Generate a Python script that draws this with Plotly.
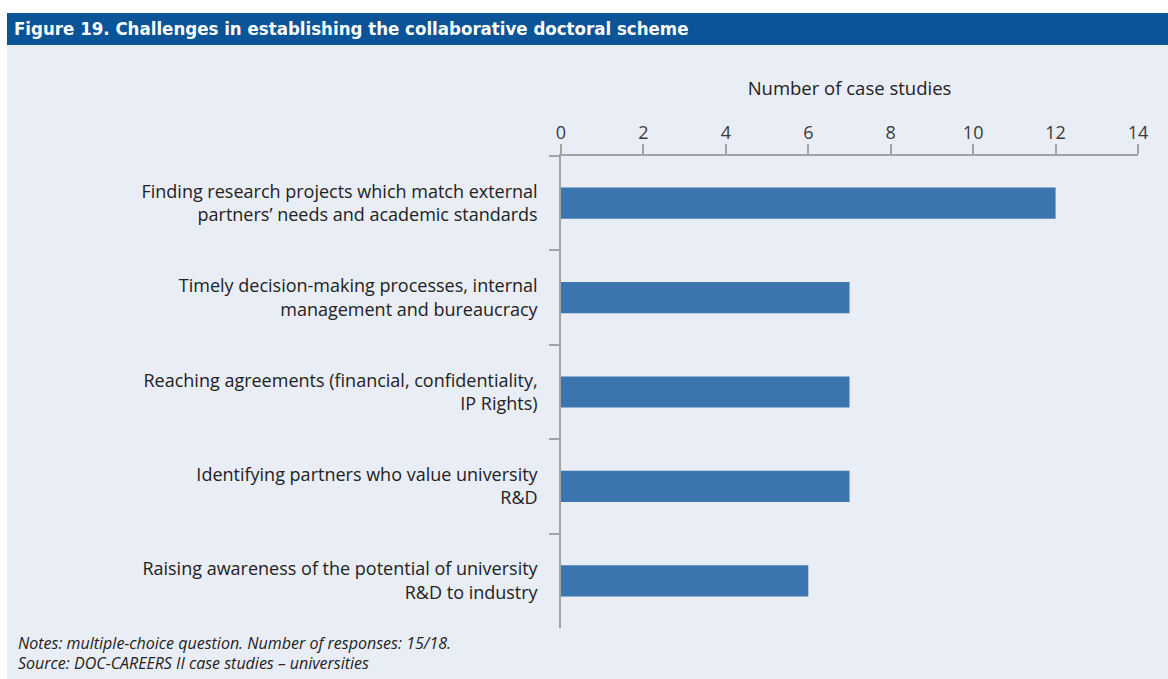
import plotly.graph_objects as go

# Challenges reported by case studies (top to bottom)
categories = [
    "Finding research projects which match external<br>partners’ needs and academic standards",
    "Timely decision-making processes, internal<br>management and bureaucracy",
    "Reaching agreements (financial, confidentiality,<br>IP Rights)",
    "Identifying partners who value university<br>R&D",
    "Raising awareness of the potential of university<br>R&D to industry",
]
case_counts = [12, 7, 7, 7, 6]
tick_values = [0, 2, 4, 6, 8, 10, 12, 14]

title_text = "Figure 19. Challenges in establishing the collaborative doctoral scheme"
notes_text = "Notes: multiple-choice question. Number of responses: 15/18."
source_text = "Source: DOC-CAREERS II case studies – universities"

W, H = 1168, 679
ML, MR, MT, MB = 561, 30, 156, 51
PW, PH = W - ML - MR, H - MT - MB

BG = "#e9edf6"
BAR = "#3b76b0"
AXIS = "#a3a3a3"
BLUE = "#0a5497"
FONT = "Open Sans, Noto Sans, sans-serif"


def px_x(px):
    return (px - ML) / PW


def px_y(py):
    return (H - MB - py) / PH


fig = go.Figure(
    go.Bar(
        x=case_counts,
        y=categories,
        orientation="h",
        width=0.33,
        marker=dict(color=BAR, line=dict(width=0)),
        hoverinfo="x+y",
    )
)

fig.update_layout(
    width=W,
    height=H,
    margin=dict(l=ML, r=MR, t=MT, b=MB, pad=0),
    paper_bgcolor=BG,
    plot_bgcolor=BG,
    showlegend=False,
    font=dict(family=FONT, size=17, color="#222222"),
    xaxis=dict(
        side="top",
        range=[0, 14],
        tickvals=tick_values,
        ticks="outside",
        ticklen=10,
        tickwidth=1.5,
        tickcolor=AXIS,
        showline=True,
        linecolor=AXIS,
        linewidth=1.5,
        showgrid=False,
        zeroline=False,
        ticklabelstandoff=-2,
        tickfont=dict(family=FONT, size=18, color="#3a3a3a"),
        title=dict(
            text="Number of case studies",
            font=dict(family=FONT, size=18.5, color="#222222"),
            standoff=20,
        ),
        fixedrange=True,
    ),
    yaxis=dict(
        type="category",
        autorange="reversed",
        tickson="boundaries",
        ticks="outside",
        ticklen=10,
        tickwidth=1.5,
        tickcolor=AXIS,
        showline=True,
        linecolor=AXIS,
        linewidth=1.5,
        showgrid=False,
        zeroline=False,
        ticklabelstandoff=18,
        tickfont=dict(family=FONT, size=18, color="#222222"),
        fixedrange=True,
    ),
    shapes=[
        # white strips at top and left edges
        dict(type="rect", xref="paper", yref="paper", x0=px_x(0), x1=px_x(W),
             y0=px_y(13), y1=px_y(0), fillcolor="white", line=dict(width=0), layer="below"),
        dict(type="rect", xref="paper", yref="paper", x0=px_x(0), x1=px_x(7),
             y0=px_y(H), y1=px_y(0), fillcolor="white", line=dict(width=0), layer="below"),
        # title bar
        dict(type="rect", xref="paper", yref="paper", x0=px_x(7), x1=px_x(W),
             y0=px_y(45), y1=px_y(13), fillcolor=BLUE, line=dict(width=0), layer="below"),
    ],
    annotations=[
        dict(text="<b>" + title_text + "</b>", xref="paper", yref="paper",
             x=px_x(12), y=px_y(29), xanchor="left", yanchor="middle", showarrow=False,
             font=dict(family="DejaVu Sans Condensed, Liberation Sans Narrow, Open Sans, sans-serif",
                       size=18.5, color="white")),
        dict(text="<i>" + notes_text + "</i>", xref="paper", yref="paper",
             x=px_x(16), y=px_y(643), xanchor="left", yanchor="middle", showarrow=False,
             font=dict(family=FONT, size=16, color="#222222")),
        dict(text="<i>" + source_text + "</i>", xref="paper", yref="paper",
             x=px_x(16), y=px_y(663), xanchor="left", yanchor="middle", showarrow=False,
             font=dict(family=FONT, size=16, color="#222222")),
    ],
)

fig.write_html("out.html")
